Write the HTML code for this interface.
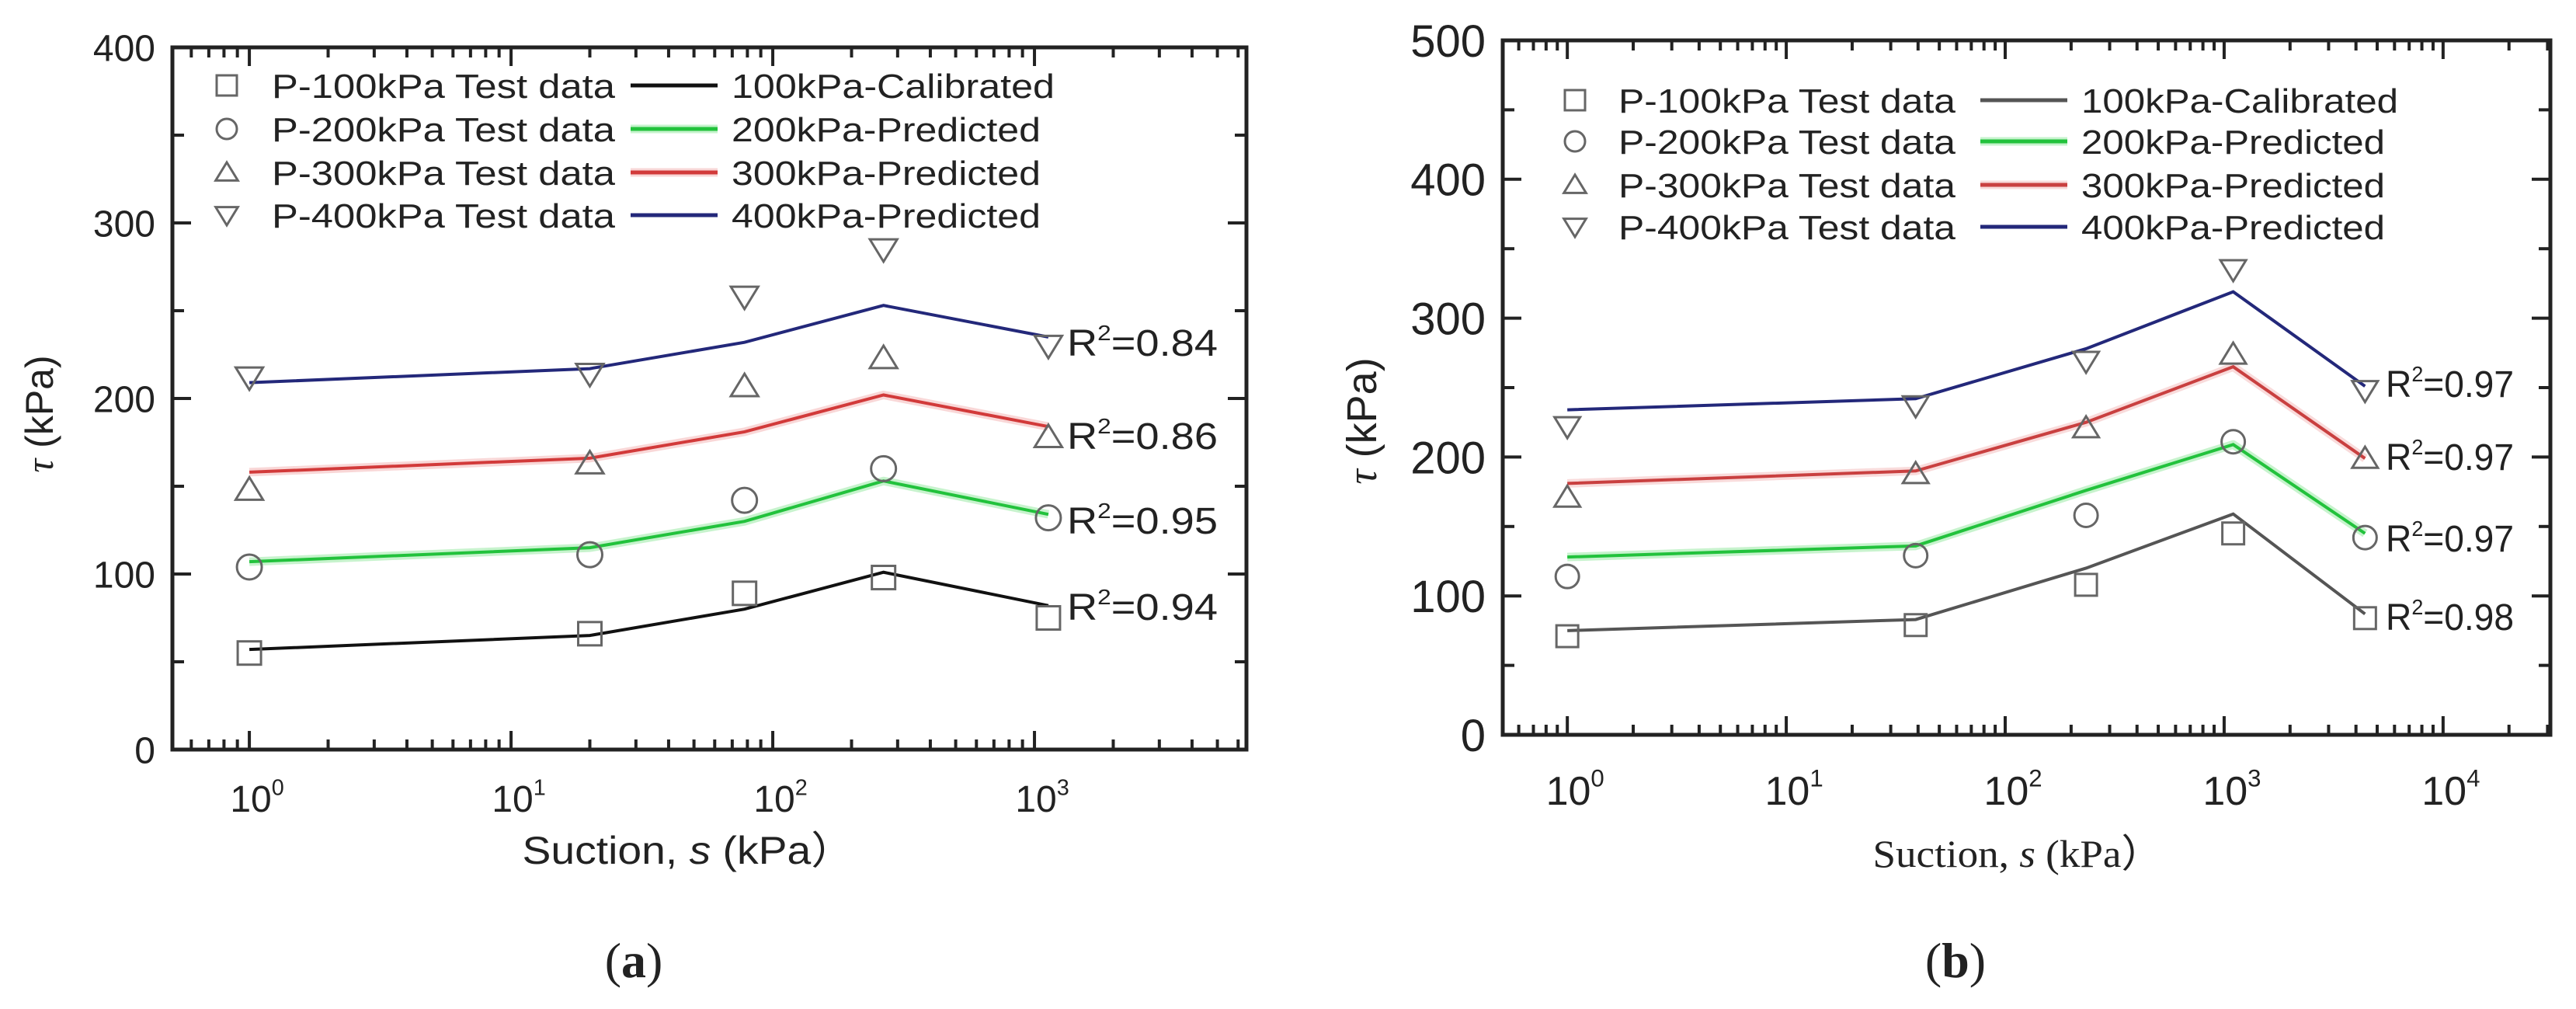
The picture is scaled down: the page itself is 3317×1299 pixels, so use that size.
<!DOCTYPE html>
<html><head><meta charset="utf-8"><style>
html,body{margin:0;padding:0;background:#fff;}
svg{display:block;}
text{fill:#222;}
</style></head><body>
<svg id="fig" width="3317" height="1299" viewBox="0 0 3317 1299" xmlns="http://www.w3.org/2000/svg">
<rect width="3317" height="1299" fill="#fff"/>
</svg>
<script>
// ---- Panel (a) data ----
const aSuction = [1, 20, 78, 265, 1130];
const aTest100 = [55, 66, 89, 98, 75];
const aTest200 = [104, 111, 142, 160, 132];
const aTest300 = [148, 163, 207, 223, 178];
const aTest400 = [212, 214, 258, 285, 230];
const aFit100 = [57, 65, 80, 101, 82];
const aFit200 = [107, 115, 130, 153, 134];
const aFit300 = [158, 166, 181, 202, 184];
const aFit400 = [209, 217, 232, 253, 235];
const aR2 = ["0.94", "0.95", "0.86", "0.84"];
const aYTicks = [0, 100, 200, 300, 400];
const aXDecades = [0, 1, 2, 3];
// ---- Panel (b) data ----
const bSuction = [1, 39, 234, 1100, 4400];
const bTest100 = [71, 79, 108, 145, 84];
const bTest200 = [114, 129, 158, 211, 142];
const bTest300 = [171, 188, 221, 274, 199];
const bTest400 = [222, 237, 269, 335, 248];
const bFit100 = [75, 83, 120, 159, 87];
const bFit200 = [128, 136, 176, 209, 145];
const bFit300 = [181, 190, 225, 265, 199];
const bFit400 = [234, 242, 278, 319, 251];
const bR2 = ["0.98", "0.97", "0.97", "0.97"];
const bYTicks = [0, 100, 200, 300, 400, 500];
const bXDecades = [0, 1, 2, 3, 4];

const NS = "http://www.w3.org/2000/svg";
const svg = document.getElementById('fig');
const SANS = 'font-family:"Liberation Sans",sans-serif';
const SERIF = 'font-family:"Liberation Serif",serif';
function mk(tag, attrs, parent, txt) {
  const e = document.createElementNS(NS, tag);
  for (const k in attrs) e.setAttribute(k, attrs[k]);
  if (tag === 'text' && !attrs.style) e.setAttribute('style', SANS);
  if (txt !== undefined) e.textContent = txt;
  (parent || svg).appendChild(e);
  return e;
}
function marker(g, shape, x, y, s, name) {
  let e;
  const h = s / 2;
  const st = {fill: 'none', stroke: '#666', 'stroke-width': 3};
  if (shape === 'sq') e = mk('rect', Object.assign({x: x - h, y: y - h, width: s, height: s}, st), g);
  else if (shape === 'ci') e = mk('circle', Object.assign({cx: x, cy: y, r: h}, st), g);
  else if (shape === 'up') e = mk('polygon', Object.assign({points: `${x},${y - h} ${x - h * 1.1},${y + h * 0.8} ${x + h * 1.1},${y + h * 0.8}`}, st), g);
  else e = mk('polygon', Object.assign({points: `${x},${y + h} ${x - h * 1.1},${y - h * 0.8} ${x + h * 1.1},${y - h * 0.8}`}, st), g);
  
  
  return e;
}

function panel(cfg) {
  const g = mk('g', {});
  
  
  const {L, R, T, B, lmin, lmax, ymax} = cfg;
  const xs = v => L + (Math.log10(v) - lmin) / (lmax - lmin) * (R - L);
  const ys = v => B - v / ymax * (B - T);
  for (let v = 0; v <= ymax; v += 50) {
    const major = v % 100 === 0;
    const len = major ? 24 : 15;
    mk('line', {x1: L, x2: L + len, y1: ys(v), y2: ys(v), stroke: '#222', 'stroke-width': 4}, g);
    mk('line', {x1: R, x2: R - len, y1: ys(v), y2: ys(v), stroke: '#222', 'stroke-width': 4}, g);
  }
  cfg.yticks.forEach(v => {
    const t = mk('text', {x: L - 22, y: ys(v) + cfg.tfs * 0.36, 'text-anchor': 'end', 'font-size': cfg.tfs}, g, String(v));
    
    
  });
  for (let d = Math.floor(lmin); d <= Math.ceil(lmax); d++) {
    for (let m = 1; m <= 9; m++) {
      const lv = d + Math.log10(m);
      if (lv < lmin || lv > lmax) continue;
      const x = L + (lv - lmin) / (lmax - lmin) * (R - L);
      const len = m === 1 ? 24 : 13;
      mk('line', {x1: x, x2: x, y1: B, y2: B - len, stroke: '#222', 'stroke-width': 4}, g);
      mk('line', {x1: x, x2: x, y1: T, y2: T + len, stroke: '#222', 'stroke-width': 4}, g);
    }
  }
  cfg.xdec.forEach(d => {
    const x = xs(Math.pow(10, d));
    const t = mk('text', {x: x + 10, y: cfg.xlabY, 'text-anchor': 'middle', 'font-size': cfg.xfs}, g);
    
    
    mk('tspan', {}, t, '10');
    mk('tspan', {dy: -cfg.xfs * 0.45, 'font-size': cfg.xfs * 0.6}, t, String(d));
  });
  const fr = mk('rect', {x: L, y: T, width: R - L, height: B - T, fill: 'none', stroke: '#222', 'stroke-width': 5}, g);
  
  
  const series = cfg.series;
  series.forEach(s => {
    const pts = cfg.sx.map((v, i) => xs(v) + ',' + ys(s.fit[i])).join(' ');
    if (s.glow) mk('polyline', {points: pts, fill: 'none', stroke: s.glow, 'stroke-width': 11, 'stroke-linejoin': 'round', opacity: 0.5}, g);
    const pl = mk('polyline', {points: pts, fill: 'none', stroke: s.color, 'stroke-width': 4, 'stroke-linejoin': 'miter'}, g);
    
    
    cfg.sx.forEach((v, i) => marker(g, s.shape, xs(v), ys(s.test[i]), s.ms, cfg.id + '-point-' + s.key));
  });
  cfg.r2.forEach((r, i) => {
    const t = mk('text', {x: cfg.r2x, y: cfg.r2y[i], 'font-size': 48, textLength: cfg.r2len, lengthAdjust: 'spacingAndGlyphs'}, g);
    
    
    mk('tspan', {}, t, 'R');
    mk('tspan', {dy: -20, 'font-size': 28}, t, '2');
    mk('tspan', {dy: 20}, t, '=' + r);
  });
  const lg = mk('g', {}, g);
  
  
  const labs = ['100', '200', '300', '400'];
  series.forEach((s, i) => {
    const y = cfg.legY[i];
    marker(lg, s.shape, cfg.legMx, y, 26, cfg.id + '-legend-marker-' + s.key);
    const t1 = mk('text', {x: cfg.legTx, y: y + 16, 'font-size': 44, textLength: cfg.legTlen, lengthAdjust: 'spacingAndGlyphs'}, lg, 'P-' + labs[i] + 'kPa Test data');
    
    
    if (s.glow) mk('line', {x1: cfg.legL1, x2: cfg.legL2, y1: y, y2: y, stroke: s.glow, 'stroke-width': 11, opacity: 0.5}, lg);
    mk('line', {x1: cfg.legL1, x2: cfg.legL2, y1: y, y2: y, stroke: s.color, 'stroke-width': 5}, lg);
    const lab = labs[i] + (i === 0 ? 'kPa-Calibrated' : 'kPa-Predicted');
    const t2 = mk('text', {x: cfg.legL2 + 18, y: y + 16, 'font-size': 44, textLength: i === 0 ? cfg.legCal : cfg.legPred, lengthAdjust: 'spacingAndGlyphs'}, lg, lab);
    
    
  });
  const yt = mk('text', {x: 0, y: 0, 'font-size': cfg.ytfs, 'text-anchor': 'middle', transform: `translate(${cfg.ytx},${cfg.yty}) rotate(-90)`}, g);
  
  
  mk('tspan', {style: SERIF + ';font-style:italic'}, yt, 'τ');
  mk('tspan', {}, yt, ' (kPa)');
  const xt = mk('text', {x: cfg.xtx, y: cfg.xty, 'font-size': cfg.xtfs, 'text-anchor': 'middle', textLength: cfg.xtlen, lengthAdjust: 'spacingAndGlyphs', style: cfg.xtfont}, g);
  
  
  mk('tspan', {}, xt, 'Suction, ');
  mk('tspan', {style: 'font-style:italic'}, xt, 's');
  mk('tspan', {}, xt, ' (kPa）');
  const cap = mk('text', {x: cfg.capx, y: 1258, 'font-size': 64, 'text-anchor': 'middle', style: SERIF}, g);
  
  
  mk('tspan', {}, cap, '(');
  mk('tspan', {'font-weight': 'bold'}, cap, cfg.id);
  mk('tspan', {}, cap, ')');
}

panel({
  id: 'a', L: 222, R: 1605, T: 61, B: 965, lmin: -0.294, lmax: 3.81, ymax: 400,
  yticks: aYTicks, xdec: aXDecades, tfs: 48, xfs: 48, xlabY: 1045, sx: aSuction,
  series: [
    {key: '100', shape: 'sq', color: '#111', test: aTest100, fit: aFit100, ms: 30},
    {key: '200', shape: 'ci', color: '#22c23c', glow: '#8fe89c', test: aTest200, fit: aFit200, ms: 32},
    {key: '300', shape: 'up', color: '#d23a3a', glow: '#f3b0b0', test: aTest300, fit: aFit300, ms: 32},
    {key: '400', shape: 'dn', color: '#23287a', test: aTest400, fit: aFit400, ms: 32}
  ],
  r2: aR2, r2x: 1374, r2y: [798, 687, 578, 458], r2len: 194,
  legY: [110, 166, 222, 277], legMx: 292, legTx: 350, legTlen: 442, legL1: 812, legL2: 924, legCal: 416, legPred: 398,
  ytx: 68, yty: 533, ytfs: 50, xtx: 886, xty: 1112, xtfs: 50, xtlen: 427, xtfont: SANS, capx: 816
});
panel({
  id: 'b', L: 1935, R: 3284, T: 52, B: 946, lmin: -0.295, lmax: 4.49, ymax: 500,
  yticks: bYTicks, xdec: bXDecades, tfs: 58, xfs: 52, xlabY: 1036, sx: bSuction,
  series: [
    {key: '100', shape: 'sq', color: '#555', test: bTest100, fit: bFit100, ms: 28},
    {key: '200', shape: 'ci', color: '#22c23c', glow: '#8fe89c', test: bTest200, fit: bFit200, ms: 30},
    {key: '300', shape: 'up', color: '#c94040', glow: '#f3b8b8', test: bTest300, fit: bFit300, ms: 30},
    {key: '400', shape: 'dn', color: '#23287a', test: bTest400, fit: bFit400, ms: 30}
  ],
  r2: bR2, r2x: 3072, r2y: [811, 710, 605, 511], r2len: 165,
  legY: [129, 182, 238, 292], legMx: 2028, legTx: 2084, legTlen: 434, legL1: 2550, legL2: 2662, legCal: 408, legPred: 391,
  ytx: 1772, yty: 542, ytfs: 54, xtx: 2598, xty: 1116, xtfs: 50, xtlen: 373, xtfont: SERIF, capx: 2518
});
</script>
</body></html>
